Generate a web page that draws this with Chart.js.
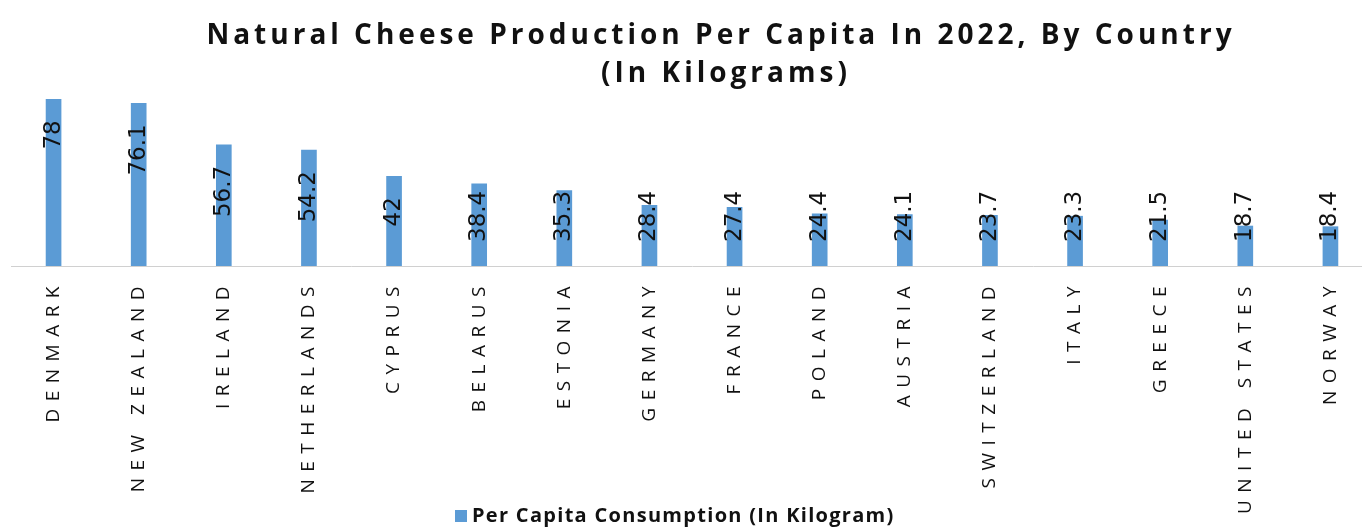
<!doctype html>
<html lang="en">
<head>
<meta charset="utf-8">
<title>Natural Cheese Production Per Capita</title>
<script src="https://cdn.jsdelivr.net/npm/chart.js@4.4.1/dist/chart.umd.min.js"></script>
<style>
  html, body { margin: 0; padding: 0; overflow: hidden; background: #fff; }
  #wrap { width: 1374px; height: 528px; }
</style>
</head>
<body>
<div id="wrap"><canvas id="cheese" width="1374" height="528"></canvas></div>
<script>
// data
const countries = ['DENMARK', 'NEW ZEALAND', 'IRELAND', 'NETHERLANDS', 'CYPRUS', 'BELARUS', 'ESTONIA', 'GERMANY',
  'FRANCE', 'POLAND', 'AUSTRIA', 'SWITZERLAND', 'ITALY', 'GREECE', 'UNITED STATES', 'NORWAY'];
const perCapita = [78, 76.1, 56.7, 54.2, 42, 38.4, 35.3, 28.4, 27.4, 24.4, 24.1, 23.7, 23.3, 21.5, 18.7, 18.4];
const titleLines = ['Natural Cheese Production Per Capita In 2022, By Country', '(In Kilograms)'];
const seriesName = 'Per Capita Consumption (In Kilogram)';

const barBlue = '#5b9bd5';

// text that Chart.js can't letter-space or place the Excel way
const excelText = {
  id: 'excelText',
  afterDatasetsDraw(chart) {
    const ctx = chart.ctx;
    const meta = chart.getDatasetMeta(0);
    ctx.save();
    ctx.font = '23px "DejaVu Sans"';
    ctx.fillStyle = '#111';
    ctx.textAlign = 'right';
    ctx.textBaseline = 'middle';
    meta.data.forEach((bar, i) => {
      const txt = String(chart.data.datasets[0].data[i]);
      const w = ctx.measureText(txt).width;
      const top = Math.min(bar.y + 21, bar.base - 24 - w);
      ctx.save();
      ctx.translate(bar.x, top);
      ctx.rotate(-Math.PI / 2);
      ctx.fillText(txt, 0, 0);
      ctx.restore();
    });
    ctx.restore();
  },
  afterDraw(chart) {
    const ctx = chart.ctx;
    const xs = chart.scales.x;
    const area = chart.chartArea;

    // category labels, rotated, spaced out
    ctx.save();
    ctx.font = '19px "Open Sans"';
    ctx.letterSpacing = '7.5px';
    ctx.fillStyle = '#111';
    ctx.textAlign = 'right';
    ctx.textBaseline = 'middle';
    countries.forEach((c, i) => {
      ctx.save();
      ctx.translate(xs.getPixelForValue(i), area.bottom + 13);
      ctx.rotate(-Math.PI / 2);
      ctx.fillText(c, 0, 0);
      ctx.restore();
    });
    ctx.restore();

    // title
    ctx.save();
    ctx.font = 'bold 28px "Open Sans"';
    ctx.letterSpacing = '4px';
    ctx.fillStyle = '#111';
    ctx.textAlign = 'center';
    ctx.textBaseline = 'alphabetic';
    ctx.fillText(titleLines[0], 721, 44);
    ctx.fillText(titleLines[1], 726, 82);
    ctx.restore();

    // legend, drawn by hand so it sits at the very bottom
    const ds = chart.data.datasets[0];
    ctx.save();
    ctx.fillStyle = ds.backgroundColor;
    ctx.fillRect(455, 510, 12, 12);
    ctx.font = 'bold 20px "Open Sans"';
    ctx.letterSpacing = '1.3px';
    ctx.fillStyle = '#111';
    ctx.textAlign = 'left';
    ctx.textBaseline = 'middle';
    ctx.fillText(ds.label, 472, 516);
    ctx.restore();
  }
};

new Chart(document.getElementById('cheese'), {
  type: 'bar',
  data: {
    labels: countries,
    datasets: [{
      label: seriesName,
      data: perCapita,
      backgroundColor: barBlue,
      borderWidth: 0,
      barThickness: 15
    }]
  },
  options: {
    responsive: false,
    devicePixelRatio: 1,
    animation: false,
    layout: { padding: { top: 95, left: 11, right: 1, bottom: 262 } },
    scales: {
      x: {
        grid: { display: false, drawTicks: false },
        border: { display: true, color: '#d0d0d0', width: 1 },
        ticks: { display: false }
      },
      y: {
        display: false,
        min: 0,
        max: 80
      }
    },
    plugins: {
      title: { display: false },
      tooltip: { enabled: false },
      legend: { display: false }
    }
  },
  plugins: [excelText]
});
</script>
</body>
</html>
